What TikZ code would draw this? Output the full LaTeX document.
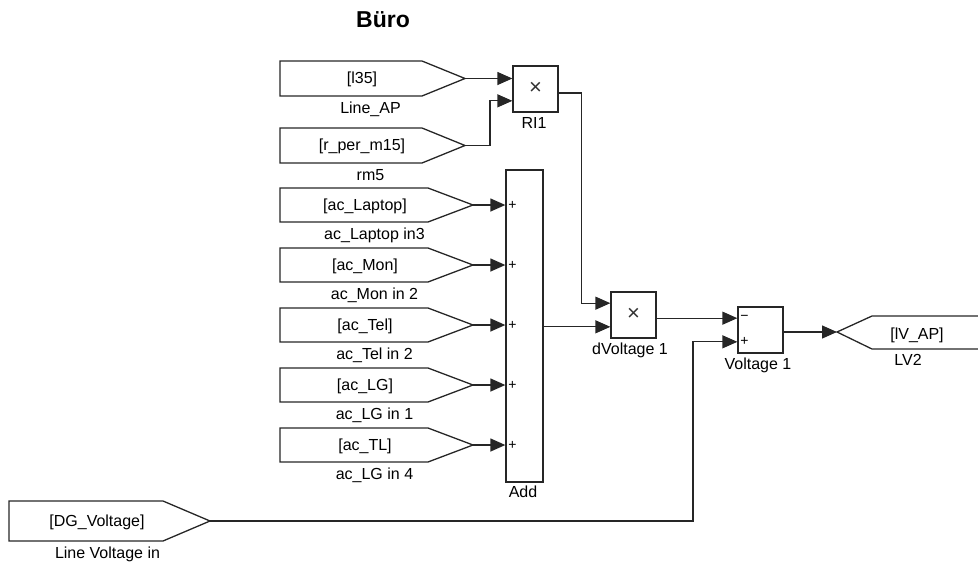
\documentclass[tikz,border=0pt]{standalone}
\usepackage{fontspec}
\setmainfont{Liberation Sans}
\usetikzlibrary{arrows.meta,calc}
\tikzset{
  wire/.style={line width=1.3pt, draw=black!85},
  sig/.style={wire, -{Triangle[length=15pt,width=13pt]}},
  blk/.style={draw=black!85, line width=1.3pt, fill=white, inner sep=0pt},
  txt/.style={font=\fontsize{16}{18}\selectfont, inner sep=0pt, text height=11pt, text depth=3pt},
  sgn/.style={font=\fontsize{14}{16}\selectfont, inner sep=0pt},
  mul/.style={font=\fontsize{22}{24}\selectfont\color{black!80}},
}
% name, top, bottom, diag x, point x, text, text x, label, left x
\newcommand\fromblk[9]{%
  \coordinate (#1) at (#5,{(#2+#3)/2});
  \draw[wire] (#9,#2) -- (#4,#2) -- (#1) -- (#4,#3) -- (#9,#3) -- cycle;
  \node[txt] (#1t) at (#7,{(#2+#3)/2+1}) {#6};
  \node[txt] (#1l) at ({(#9+#5)/2-2},#3+13) {#8};
}
\begin{document}
\begin{tikzpicture}[x=1pt,y=-1pt]
\useasboundingbox (0,0) rectangle (978,563);
\node[font=\bfseries\fontsize{23}{26}\selectfont] (title) at (383,20) {Büro};

% From blocks
\fromblk{lap}{61}{96}{422}{465}{[l35]}{362}{Line\_AP}{280}
\fromblk{rm}{128}{163}{422}{465}{[r\_per\_m15]}{362}{rm5}{280}
\fromblk{a1}{188}{222}{428}{473}{[ac\_Laptop]}{365}{ac\_Laptop in3}{280}
\fromblk{a2}{248}{282}{428}{473}{[ac\_Mon]}{365}{ac\_Mon in 2}{280}
\fromblk{a3}{308}{342}{428}{473}{[ac\_Tel]}{365}{ac\_Tel in 2}{280}
\fromblk{a4}{368}{402}{428}{473}{[ac\_LG]}{365}{ac\_LG in 1}{280}
\fromblk{a5}{428}{462}{428}{473}{[ac\_TL]}{365}{ac\_LG in 4}{280}
\fromblk{dg}{501}{541}{163}{210}{[DG\_Voltage]}{97}{Line Voltage in}{9}

% Product RI1
\node[blk, minimum width=45pt, minimum height=46pt] (ri1) at (535.5,89) {};
\node[mul] (ri1x) at (535.5,88) {×};
\node[txt] (ri1l) at (534,124) {RI1};

% Add
\node[blk, minimum width=37pt, minimum height=312pt] (add) at (524.5,326) {};
\node[txt] (addl) at (523,493) {Add};
\foreach \n in {a1,a2,a3,a4,a5}{
  \node[sgn] at ($(\n -| add.west)+(7,0)$) {+};
}

% Product dVoltage 1
\node[blk, minimum width=45pt, minimum height=46pt] (dv) at (633.5,315) {};
\node[mul] (dvx) at (633.5,314) {×};
\node[txt] (dvl) at (630,350) {dVoltage 1};

% Sum Voltage 1
\node[blk, minimum width=45pt, minimum height=46pt] (sum) at (760.5,330) {};
\node[txt] (suml) at (758,365) {Voltage 1};
\coordinate (s1) at ($(sum.north west)!0.25!(sum.south west)$);
\coordinate (s2) at ($(sum.north west)!0.75!(sum.south west)$);
\node[sgn] at ($(s1)+(7,0)$) {−};
\node[sgn] at ($(s2)+(7,0)$) {+};

% Goto LV2
\coordinate (lv2) at (837,332);
\draw[wire] (980,316) -- (872,316) -- (lv2) -- (872,349) -- (980,349);
\node[txt] (lv2t) at (917,335) {[lV\_AP]};
\node[txt] (lv2l) at (908,361) {LV2};

% connectors
\coordinate (r1) at ($(ri1.north west)!0.25!(ri1.south west)$);
\coordinate (r2) at ($(ri1.north west)!0.75!(ri1.south west)$);
\draw[sig] (lap) -- (lap -| ri1.west);
\draw[sig] (rm) -- ++(25,0) |- (r2);
\foreach \n in {a1,a2,a3,a4,a5}{
  \draw[sig] (\n) -- (\n -| add.west);
}
\coordinate (d1) at ($(dv.north west)!0.25!(dv.south west)$);
\coordinate (d2) at ($(dv.north west)!0.75!(dv.south west)$);
\draw[sig] (add.east |- d2) -- (d2);
\draw[sig] ($(ri1.east)+(0,4)$) -- ++(23,0) |- (d1);
\draw[sig] (s1 -| dv.east) -- (s1);
\draw[sig] (dg) -- ++(483,0) |- (s2);
\draw[sig] (sum.east |- lv2) -- (lv2);
\end{tikzpicture}
\end{document}
